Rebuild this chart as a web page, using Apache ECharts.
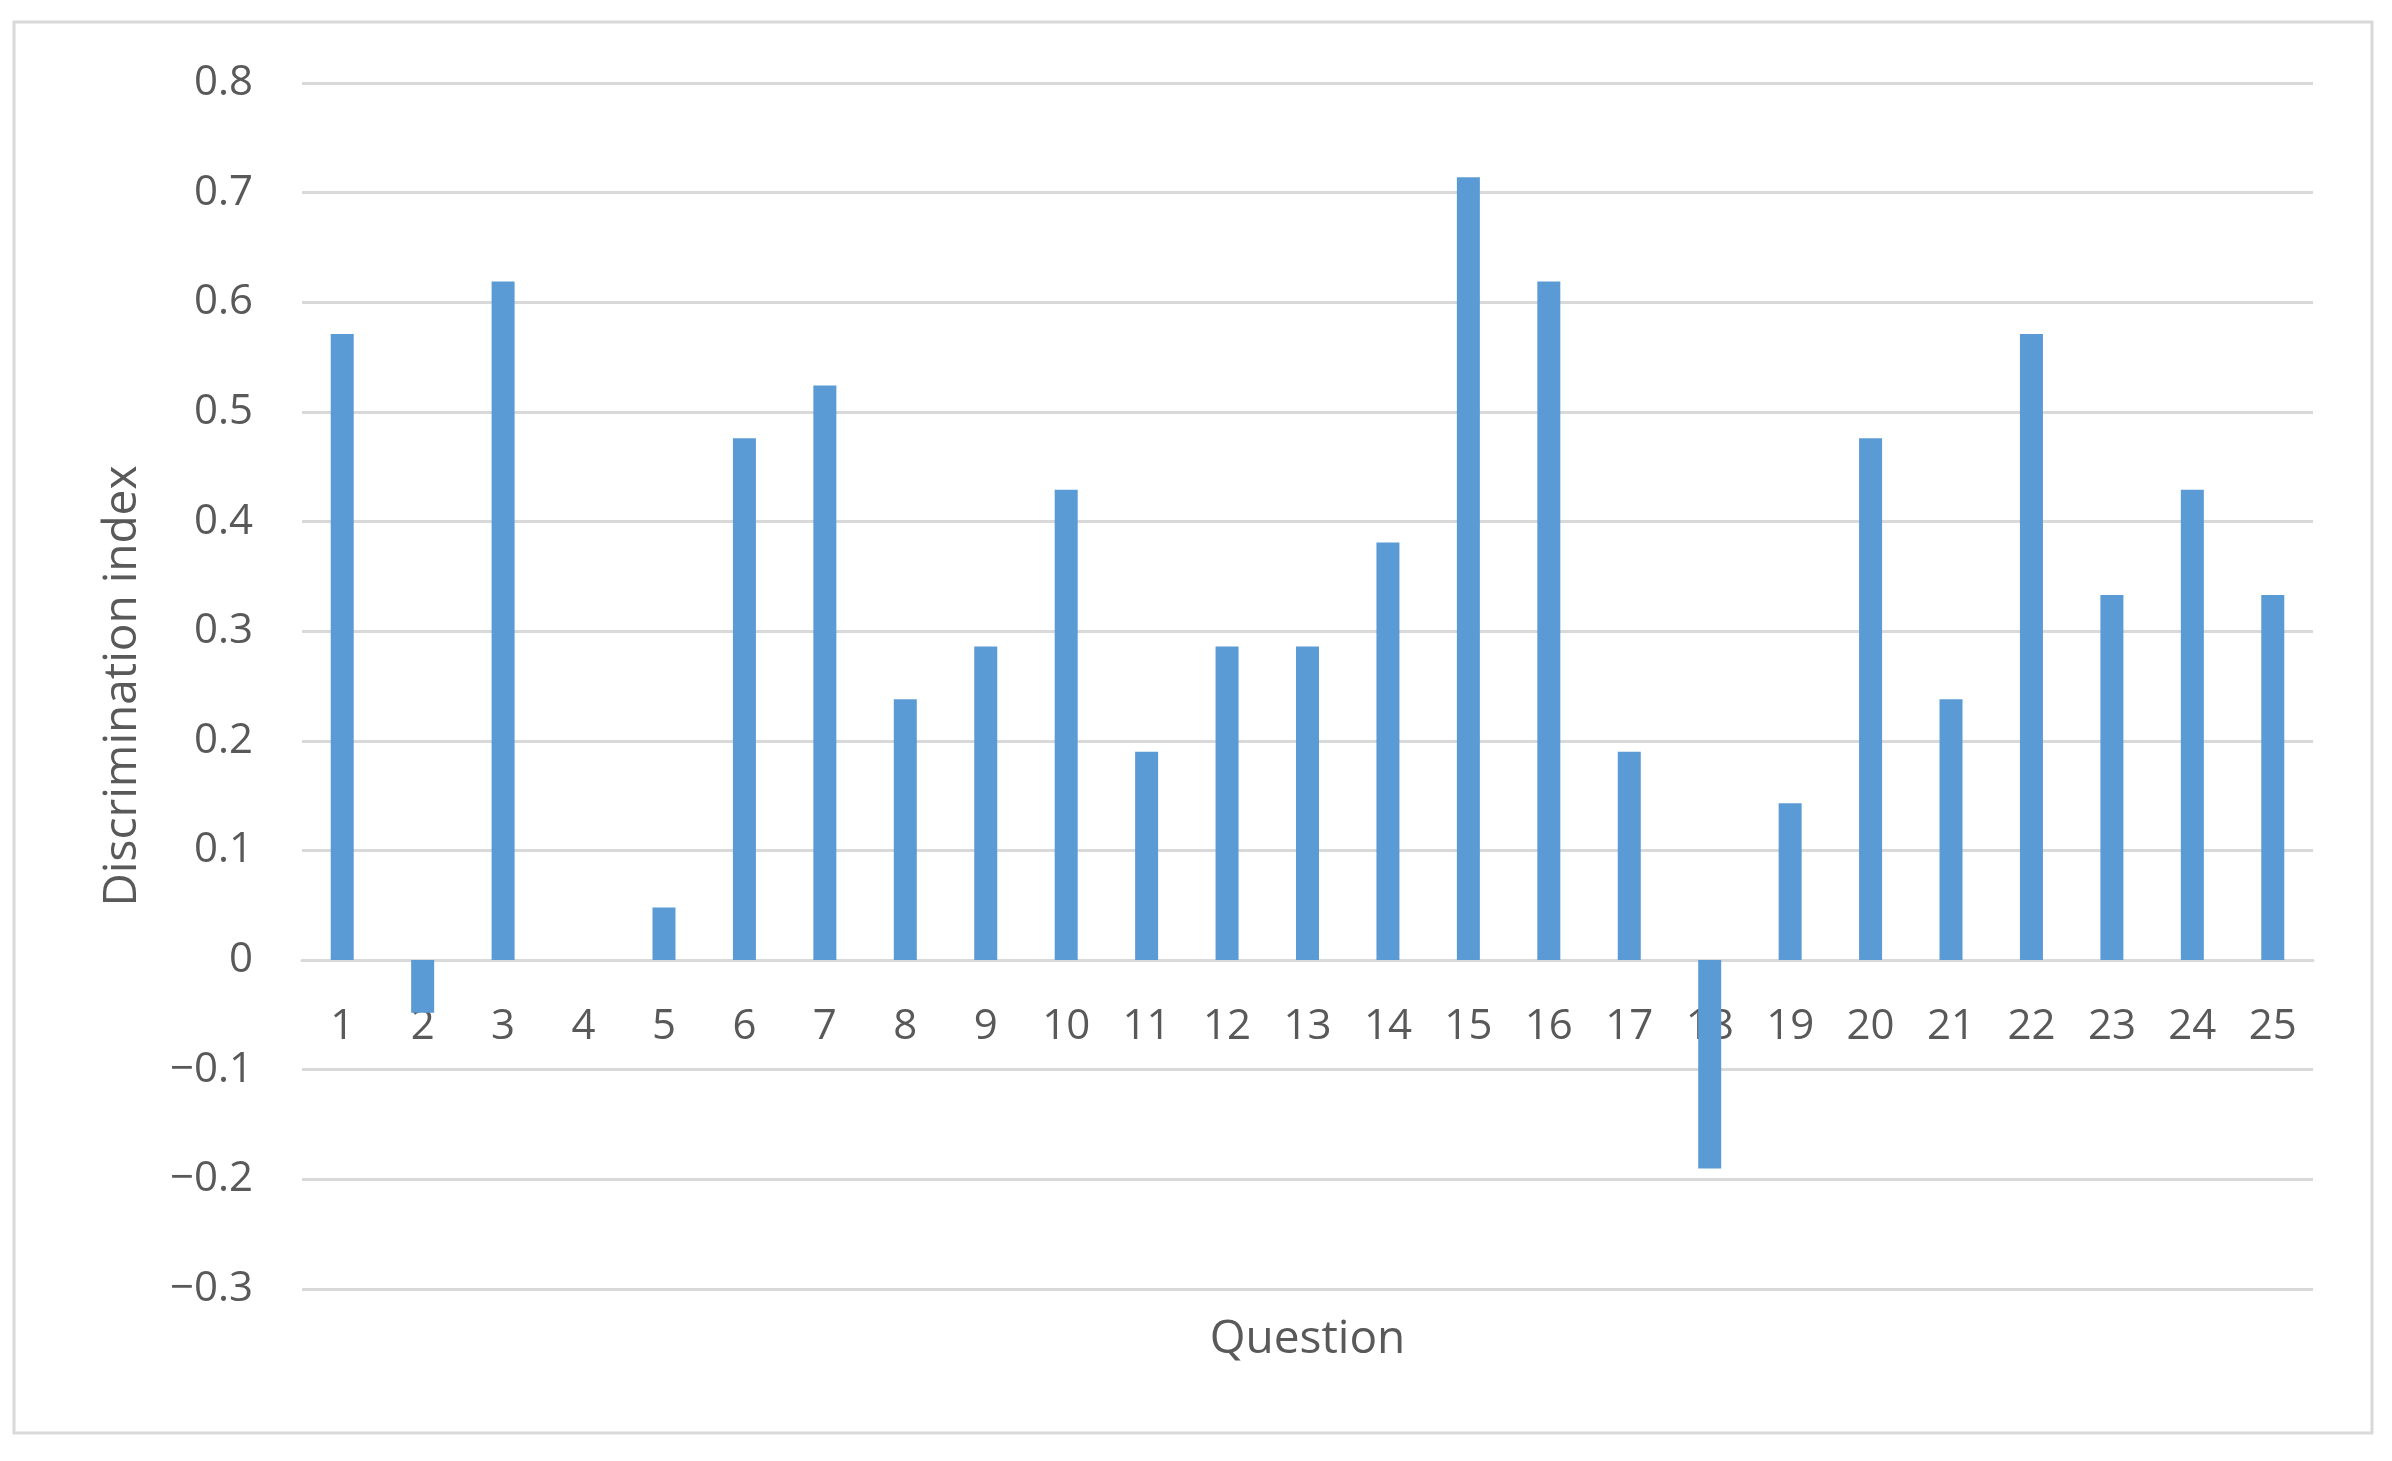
<!DOCTYPE html>
<html lang="en">
<head>
    <meta charset="UTF-8">
    <title>Discrimination index</title>
    <script src="https://cdn.jsdelivr.net/npm/echarts@6/dist/echarts.min.js"></script>
    <style>
        html, body { margin: 0; padding: 0; background: #fff; }
        #chart { width: 2392px; height: 1461px; }
    </style>
</head>
<body>
<div id="chart"></div>
<script type="text/javascript">
    // questions on the x axis
    var questions = ['1','2','3','4','5','6','7','8','9','10','11','12','13','14','15','16','17','18','19','20','21','22','23','24','25'];
    // discrimination index per question
    var discIndex = [0.571, -0.048, 0.619, 0, 0.048, 0.476, 0.524, 0.238, 0.286, 0.429,
                     0.190, 0.286, 0.286, 0.381, 0.714, 0.619, 0.190, -0.190, 0.143, 0.476,
                     0.238, 0.571, 0.333, 0.429, 0.333];
    var yMin = -0.3, yMax = 0.8, yStep = 0.1;

    var font = 'Open Sans';
    var textColor = '#595959';
    var gridColor = '#d9d9d9';

    var gridTop = 83, gridBottom = 172;
    var plotH = 1461 - gridTop - gridBottom;
    // lift the category axis up to the zero line (onZero doesn't kick in here)
    var zeroOffset = -(0 - yMin) / (yMax - yMin) * plotH;

    var chart = echarts.init(document.getElementById('chart'));
    var option = {
        animation: false,
        backgroundColor: '#fff',
        // outer chart frame
        graphic: [{
            type: 'rect',
            shape: { x: 14, y: 22, width: 2358, height: 1411 },
            style: { fill: 'none', stroke: gridColor, lineWidth: 3 }
        }],
        grid: {
            left: 302,
            right: 79,
            top: gridTop,
            bottom: gridBottom,
            containLabel: false,
            outerBoundsMode: 'none'
        },
        xAxis: {
            type: 'category',
            data: questions,
            offset: zeroOffset,
            name: 'Question',
            nameLocation: 'middle',
            nameGap: 357,
            nameTextStyle: { fontFamily: font, fontSize: 46, color: textColor },
            axisLine: { show: true, onZero: false, lineStyle: { color: gridColor, width: 3 } },
            axisTick: { show: false },
            axisLabel: { fontFamily: font, fontSize: 42, color: textColor, margin: 46 }
        },
        yAxis: {
            type: 'value',
            min: yMin,
            max: yMax,
            interval: yStep,
            name: 'Discrimination index',
            nameLocation: 'middle',
            nameGap: 156,
            nameTextStyle: { fontFamily: font, fontSize: 46, color: textColor },
            axisLine: { show: false },
            axisTick: { show: false },
            axisLabel: {
                fontFamily: font, fontSize: 42, color: textColor, margin: 49,
                formatter: function (v) {
                    var s = (Math.round(v * 10) / 10).toString();
                    return s.replace('-', '\u2212');
                }
            },
            splitLine: { lineStyle: { color: gridColor, width: 3 } }
        },
        series: [{
            type: 'bar',
            data: discIndex,
            barWidth: 23,
            itemStyle: { color: '#5b9bd5' }
        }]
    };
    chart.setOption(option);
</script>
</body>
</html>
